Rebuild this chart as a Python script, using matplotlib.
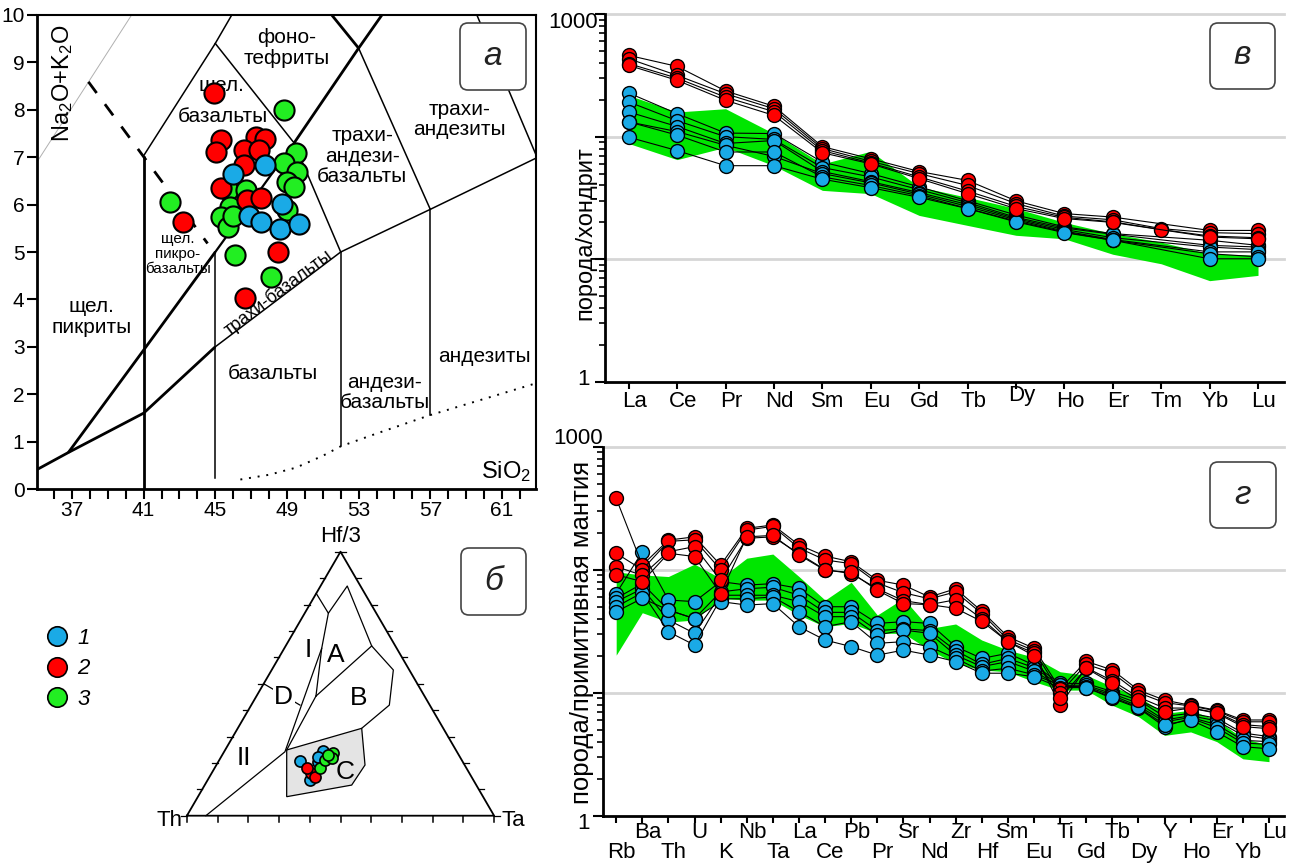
import numpy as np
import matplotlib
matplotlib.use('Agg')
import matplotlib.pyplot as plt
from matplotlib.patches import FancyBboxPatch, Polygon
from matplotlib.lines import Line2D
from matplotlib.transforms import IdentityTransform, blended_transform_factory

plt.rcParams['font.family'] = ['Liberation Sans', 'DejaVu Sans']
plt.rcParams['mathtext.default'] = 'regular'

W, H = 1298, 863
BLUE = '#1aaae6'
RED = '#ff0000'
GREEN = '#22ee22'
BAND = '#00e600'

# ---------------- panel a: TAS (SiO2, Na2O+K2O) ----------------
tas_sio2_green = [48.81, 49.48, 48.81, 49.58, 49.0, 49.39, 42.45, 45.72, 46.69, 45.82,
                  45.34, 45.72, 46.01, 49.0, 46.11, 48.13]
tas_alk_green = [7.99, 7.08, 6.87, 6.69, 6.48, 6.37, 6.06, 6.30, 6.30, 5.95,
                 5.74, 5.53, 5.77, 5.88, 4.93, 4.47]
tas_sio2_red = [44.95, 45.34, 45.05, 47.27, 47.75, 46.59, 47.46, 46.59, 45.34, 46.78,
                47.55, 43.22, 48.52, 46.65]
tas_alk_red = [8.35, 7.36, 7.11, 7.43, 7.39, 7.15, 7.15, 6.83, 6.34, 6.09,
               6.13, 5.63, 5.00, 4.02]
tas_sio2_blue = [46.01, 47.75, 46.88, 47.55, 48.71, 48.61, 49.67]
tas_alk_blue = [6.65, 6.83, 5.77, 5.63, 6.02, 5.49, 5.60]

# ---------------- panel б: Th - Hf/3 - Ta (%) ----------------
tern_th_blue = [52.9, 43.5, 53.2, 47.0, 46.0]
tern_hf_blue = [20.7, 24.6, 13.5, 20.5, 22.4]
tern_ta_blue = [26.4, 31.9, 33.3, 32.5, 31.6]
tern_th_red = [51.6, 52.0, 50.9]
tern_hf_red = [16.3, 18.0, 14.8]
tern_ta_red = [32.1, 30.0, 34.3]
tern_th_green = [47.7, 44.5, 40.5, 42.0, 42.5]
tern_hf_green = [18.0, 21.1, 23.6, 21.7, 23.0]
tern_ta_green = [34.3, 34.4, 35.9, 36.3, 34.5]

# ---------------- panel в: REE / chondrite ----------------
nan = np.nan
ree = ['La', 'Ce', 'Pr', 'Nd', 'Sm', 'Eu', 'Gd', 'Tb', 'Dy', 'Ho', 'Er', 'Tm', 'Yb', 'Lu']
ree_blue = [
    [227, 154, 107, 106, 62, 50, 39, 30, 23, 18.4, 16.2, nan, 14.3, 13],
    [192, 135, 100, 95, 56, 47, 37, 29, 22, 18, 16, nan, 13, 12.6],
    [159, 121, 88, 93, 52, 43, 35, 28, 21.5, 17.5, 15, nan, 12.6, 12],
    [132, 110, 85, 69, 50, 42, 34, 27, 21, 17, 14.5, nan, 11.5, 11.5],
    [132, 103, 75, 75, 47, 40, 33, 26, 20.5, 16.7, 14.3, nan, 11.1, 10.5],
    [99, 77, 58, 58, 45, 38.4, 32, 25.9, 20.2, 16.5, 14.3, nan, 10.1, 10.1],
]
ree_red = [
    [460, 374, 236, 177, 83, 66, 52, 44, 30, 23.6, 22.1, nan, 17.2, 17.2],
    [432, 316, 224, 169, 80, 63, 50, 40, 28.5, 22.5, 21, 17.8, 16.5, 16.2],
    [394, 300, 210, 160, 77, 61, 47, 36, 27, 22, 20.2, 17.5, 15.5, 15],
    [381, 288, 198, 149, 74, 60, 45.5, 34.3, 25.9, 21.5, 20, nan, 15.2, 14.7],
]
ree_band_hi = [217, 159, 169, 106, 60, 76, 39, 32, 26, 20, 16.2, 13.8, 11.1, 10.8]
ree_band_lo = [88, 65, 82, 58, 36.5, 34.3, 22.8, 18.9, 15.7, 14.7, 11, 9.2, 6.7, 7.4]

# ---------------- panel г: primitive mantle normalised ----------------
spd = ['Rb', 'Ba', 'Th', 'U', 'K', 'Nb', 'Ta', 'La', 'Ce', 'Pb', 'Pr', 'Sr', 'Nd',
       'Zr', 'Hf', 'Sm', 'Eu', 'Ti', 'Gd', 'Tb', 'Dy', 'Y', 'Ho', 'Er', 'Yb', 'Lu']
spd_blue = [
    [64, 140, 56.7, 55, 80, 75, 77, 70.5, 50, 50, 36.6, 37.8, 36.6, 23.7, 19, 20.9, 16.8, 11.9, 11.9, 10.2, 8.7, 6.4, 6.8, 6.2, 4.7, 4.4],
    [58.5, 77, 47, 40, 66, 70, 72, 62, 45, 45, 32, 33, 32, 22, 17, 19, 16, 11.5, 11.5, 9.8, 8.2, 6.0, 6.5, 5.9, 4.5, 4.2],
    [55, 70, 39, 30.4, 62, 62, 62, 55, 41.5, 41.5, 29.4, 32.3, 30.4, 20.2, 16.3, 17.9, 15, 11.2, 11.2, 9.5, 7.8, 5.8, 6.3, 5.5, 4.1, 4.0],
    [50, 65, 31.3, 24.4, 58, 58, 60, 45.6, 34.4, 37.8, 25.2, 26, 23.7, 19, 15, 15.8, 14, 11.5, 11, 9.0, 7.5, 5.3, 6.2, 5.2, 3.9, 3.8],
    [45.6, 58.5, 47, 40, 55, 51.6, 53, 34.4, 26.8, 23.7, 20.2, 22.2, 20.2, 17.9, 14.4, 14.4, 13.5, 11, 11, 9.2, 7.6, 5.5, 6.0, 4.8, 3.64, 3.5],
]
spd_red = [
    [380, 109, 174, 185, 109, 217, 231, 159, 129, 116, 82, 75, 60, 70, 46, 28.5, 23, 10.8, 18, 15.3, 10.5, 8.7, 7.9, 7.2, 6.0, 6.0],
    [136, 100, 170, 175, 100, 210, 225, 150, 120, 112, 78, 65, 58, 66, 44, 27, 22, 10, 17, 14.5, 10, 8.3, 7.8, 7.1, 5.8, 5.8],
    [106, 90, 140, 154, 82, 180, 185, 135, 100, 93, 70, 56, 52, 57, 40, 26, 21, 7.9, 16, 12.5, 9.2, 7.5, 7.5, 6.9, 5.5, 5.3],
    [91, 80, 136, 128, 64, 185, 190, 132, 99, 95, 68, 53, 52, 48.5, 38, 26, 20, 9, 15.8, 11.9, 8.7, 7.0, 7.5, 6.8, 5.3, 5.1],
]
spd_band_hi = [96, 90.6, 88, 111, 85, 124, 134, 88, 56.6, 79, 42.8, 58.5, 33.3, 36.2, 26.8,
               22.2, 19.4, 14.8, 13.9, 11.2, 9.3, 6.8, 7.2, 6.0, 4.25, 3.76]
spd_band_lo = [20.2, 44.7, 37.5, 39, 58.5, 56.6, 56.6, 42.8, 34.4, 36.6, 30.4, 30.4, 22.2, 17.3,
               15.3, 14.8, 12.3, 10.5, 10.5, 7.9, 6.4, 4.5, 4.8, 4.0, 2.9, 2.75]

fig = plt.figure(figsize=(W / 100, H / 100), dpi=100)


def px_axes(x0, y0, x1, y1):
    return fig.add_axes([x0 / W, 1 - y1 / H, (x1 - x0) / W, (y1 - y0) / H])


def label_box(x0, y0, x1, y1, letter):
    box = FancyBboxPatch((x0, H - y1), x1 - x0, y1 - y0,
                         boxstyle='round,pad=0,rounding_size=8',
                         transform=IdentityTransform(), facecolor='white',
                         edgecolor='#444444', lw=1.2, zorder=10)
    fig.add_artist(box)
    fig.text((x0 + x1) / 2 / W, 1 - (y0 + y1) / 2 / H, letter, ha='center', va='center',
             fontsize=24, style='italic', color='#222222', zorder=11)


# ================= panel a =================
ax = px_axes(37, 15, 536, 489)
ax.set_xlim(35.05, 62.9)
ax.set_ylim(0, 10)
for s in ax.spines.values():
    s.set_linewidth(1.5)
ax.spines['left'].set_linewidth(2)
ax.spines['bottom'].set_linewidth(2)
ax.set_xticks(np.arange(37, 62, 4))
ax.set_xticks(np.arange(36, 63, 1), minor=True)
ax.set_yticks(np.arange(0, 11, 1))
ax.tick_params(which='both', direction='out', length=7, width=1.5, labelsize=15, pad=2)

bold = [([35.05, 36.8, 41, 45], [0.41, 0.77, 1.6, 3.0]),
        ([36.8, 41, 45], [0.77, 2.93, 5.0]),
        ([49.4, 53, 54.3], [7.3, 9.3, 10.0]),
        ([41, 41], [0, 7.03]),
        ([51.5, 53], [10, 9.3])]
thin = [([45, 52, 57, 62.9], [3.0, 5.0, 5.9, 6.98]),
        ([41, 45, 45.92], [7.03, 9.4, 10]),
        ([45, 49.4, 52], [9.4, 7.3, 5.0]),
        ([53, 57], [9.3, 5.9]),
        ([59.6, 62.9], [10, 7.05]),
        ([45, 45], [0.23, 5.0]),
        ([52, 52], [0.9, 5.0]),
        ([57, 57], [1.56, 5.9])]
for xs, ys in bold:
    ax.plot(xs, ys, color='k', lw=2, solid_capstyle='butt', zorder=2)
for xs, ys in thin:
    ax.plot(xs, ys, color='k', lw=1.1, zorder=2)
ax.plot([45, 49.4], [5.0, 7.3], color='k', lw=1.6, zorder=2)
ax.plot([37.92, 44.57], [8.59, 5.18], color='k', lw=2, ls=(0, (5, 5)), zorder=2)
ax.plot([46.4, 48, 49.5, 51, 52, 54, 57, 60, 62.9], [0.2, 0.3, 0.45, 0.7, 0.9, 1.17, 1.56, 1.9, 2.23],
        color='k', lw=1.4, ls=(0, (1, 3.5)), zorder=2)
ax.plot([35.05, 40.33], [6.9, 10], color='#b0b0b0', lw=0.7, zorder=1)

tas_txt = [("фоно-\nтефриты", 49.0, 9.3, 15, 0),
           ("щел.", 45.34, 8.52, 15, 0),
           ("базальты", 45.43, 7.85, 15, 0),
           ("трахи-\nандези-\nбазальты", 53.2, 7.02, 15, 0),
           ("трахи-\nандезиты", 58.64, 7.8, 15, 0),
           ("щел.\nпикро-\nбазальты", 42.9, 4.95, 11, 0),
           ("щел.\nпикриты", 38.1, 3.63, 15, 0),
           ("базальты", 48.23, 2.44, 15, 0),
           ("андези-\nбазальты", 54.45, 2.04, 15, 0),
           ("андезиты", 60.0, 2.79, 15, 0),
           ("трахи-базальты", 48.5, 4.15, 13, 37),
           ("SiO$_2$", 61.24, 0.37, 17, 0)]
for t, x, y, fs, rot in tas_txt:
    ax.text(x, y, t, ha='center', va='center', fontsize=fs, rotation=rot,
            rotation_mode='anchor', linespacing=1.1, zorder=3)
ax.text(36.5, 8.56, "Na$_2$O+K$_2$O", rotation=90, ha='center', va='center', fontsize=17)

mk = dict(ls='', marker='o', ms=14.5, mec='k', mew=1.5, zorder=5)
ax.plot(tas_sio2_green, tas_alk_green, mfc=GREEN, **mk)
ax.plot(tas_sio2_red, tas_alk_red, mfc=RED, **mk)
ax.plot(tas_sio2_blue, tas_alk_blue, mfc=BLUE, **mk)
label_box(460, 23, 526, 90, 'а')

# ================= panel б =================
axt = px_axes(30, 520, 540, 850)
axt.set_xlim((30 - 186.9) / 307.2, (540 - 186.9) / 307.2)
axt.set_ylim((815.7 - 850) / 264, (815.7 - 520) / 264)
axt.axis('off')


def tern(th, hf, ta):
    th, hf, ta = (np.asarray(v, float) for v in (th, hf, ta))
    s = th + hf + ta
    return ta / s + hf / s / 2, hf / s


def tern_hf_ta(pairs):
    hf = np.array([p[0] for p in pairs])
    ta = np.array([p[1] for p in pairs])
    return tern(1 - hf - ta, hf, ta)


axt.plot([0, 1, 0.5, 0], [0, 0, 1, 0], color='k', lw=1.3, zorder=2)
for i in range(11):
    f = i / 10
    axt.plot([f, f], [0, -0.025], color='k', lw=1.1)
    axt.plot([f / 2, f / 2 - 0.018], [f, f], color='k', lw=0.9)
    axt.plot([1 - f / 2, 1 - f / 2 + 0.018], [f, f], color='k', lw=0.9)

fields = [
    [(0.842, 0.0), (0.767, 0.077), (0.87, 0.087), (0.643, 0.280), (0.552, 0.396), (0.419, 0.4495), (0.331, 0.4035)],
    [(0.767, 0.077), (0.634, 0.1218), (0.453, 0.1936)],
    [(0.453, 0.1936), (0.643, 0.280)],
    [(0.453, 0.1936), (0.249, 0.2004)],
    [(0.634, 0.1218), (0.242, 0.1981), (0.0, 0.0618)],
    [(0.5, 0.0), (0.419, 0.1585)],
]
for f in fields:
    u, v = tern_hf_ta(f)
    axt.plot(u, v, color='k', lw=0.9, zorder=2)
cu, cv = tern_hf_ta([(0.249, 0.2004), (0.331, 0.4035), (0.192, 0.4838), (0.116, 0.4784), (0.072, 0.2888)])
axt.add_patch(Polygon(np.column_stack([cu, cv]), closed=True, facecolor='#e4e4e4',
                      edgecolor='k', lw=0.9, zorder=1))
for t, u, v in [('I', 0.394, 0.6275), ('A', 0.4854, 0.6087), ('B', 0.558, 0.4447),
                ('C', 0.5147, 0.1667), ('II', 0.186, 0.2174)]:
    axt.text(u, v, t, ha='center', va='center', fontsize=19, zorder=3)
axt.text(0.3151, 0.4511, 'D', ha='center', va='center', fontsize=19, zorder=3,
         bbox=dict(boxstyle='square,pad=0.05', fc='white', ec='none'))
axt.text(0.5, 1.057, 'Hf/3', ha='center', va='center', fontsize=16)
axt.text(-0.015, -0.02, 'Th', ha='right', va='center', fontsize=16)
axt.text(1.025, -0.02, 'Ta', ha='left', va='center', fontsize=16)

mt = dict(ls='', marker='o', ms=8, mec='k', mew=1.2, zorder=5)
axt.plot(*tern(tern_th_blue, tern_hf_blue, tern_ta_blue), mfc=BLUE, **mt)
axt.plot(*tern(tern_th_red, tern_hf_red, tern_ta_red), mfc=RED, **mt)
axt.plot(*tern(tern_th_green, tern_hf_green, tern_ta_green), mfc=GREEN, **mt)
label_box(461, 548, 526, 615, 'б')

handles = [Line2D([], [], ls='', marker='o', ms=14, mfc=c, mec='k', mew=1.2) for c in (BLUE, RED, GREEN)]
fig.legend(handles, ['1', '2', '3'], loc='upper left', bbox_to_anchor=(33 / W, 1 - 617 / H),
           frameon=False, borderpad=0, handlelength=1.2, handletextpad=0.3, labelspacing=0.42,
           prop={'style': 'italic', 'size': 16})


# ================= panels в / г =================
def spider_axes(box, names, blue, red, lo, hi, xpad):
    a = px_axes(*box)
    x = np.arange(len(names))
    a.set_yscale('log')
    a.set_ylim(1, 1000)
    a.set_xlim(x[0] - xpad[0], x[-1] + xpad[1])
    for v in (10, 100, 1000):
        a.axhline(v, color='#d6d6d6', lw=2, zorder=0, clip_on=False)
    a.spines['top'].set_visible(False)
    a.spines['right'].set_visible(False)
    a.spines['left'].set_linewidth(2)
    a.spines['bottom'].set_linewidth(2)
    a.set_xticks(x)
    a.set_xticklabels([])
    a.tick_params(axis='x', direction='out', length=5, width=1.5)
    a.tick_params(axis='y', which='major', direction='out', length=7, width=1.5, labelleft=False)
    a.tick_params(axis='y', which='minor', direction='out', length=4, width=1.2, labelleft=False)
    a.fill_between(x, lo, hi, color=BAND, lw=0, zorder=1)
    for grp, col in ((blue, BLUE), (red, RED)):
        for s in grp:
            s = np.asarray(s, float)
            m = ~np.isnan(s)
            a.plot(x[m], s[m], color='k', lw=0.8, marker='o', ms=10, mfc=col, mec='k',
                   mew=1, zorder=3)
    return a, x


axv, xv = spider_axes((604.5, 14, 1284.4, 382), ree, ree_blue, ree_red,
                      ree_band_lo, ree_band_hi, (0.5, 0.545))
trv = blended_transform_factory(axv.transData, axv.transAxes)
for i, n in zip(xv, ree):
    axv.text(i + 0.12, -0.038 if n == 'Dy' else -0.054, n, transform=trv,
             ha='center', va='center', fontsize=16)
label_box(1210, 23, 1275, 89, 'в')
fig.text(598 / W, 1 - 23 / H, '1000', ha='right', va='center', fontsize=16)
fig.text(590 / W, 1 - 379 / H, '1', ha='right', va='center', fontsize=16)
fig.text(585 / W, 1 - 233 / H, 'порода/хондрит', rotation=90, ha='center', va='center', fontsize=17)

axg, xg = spider_axes((603, 446.7, 1284.4, 815.7), spd, spd_blue, spd_red,
                      spd_band_lo, spd_band_hi, (0.505, 0.59))
trg = blended_transform_factory(axg.transData, axg.transAxes)
for i, n in zip(xg, spd):
    axg.text(i + 0.2, -0.046 if i % 2 else -0.100, n, transform=trg,
             ha='center', va='center', fontsize=16)
label_box(1210, 462, 1276, 528, 'г')
fig.text(603 / W, 1 - 438 / H, '1000', ha='right', va='center', fontsize=16)
fig.text(590 / W, 1 - 823 / H, '1', ha='right', va='center', fontsize=16)
fig.text(582 / W, 1 - 632 / H, 'порода/примитивная мантия', rotation=90, ha='center',
         va='center', fontsize=18.5)

fig.savefig('out.png', dpi=100)
